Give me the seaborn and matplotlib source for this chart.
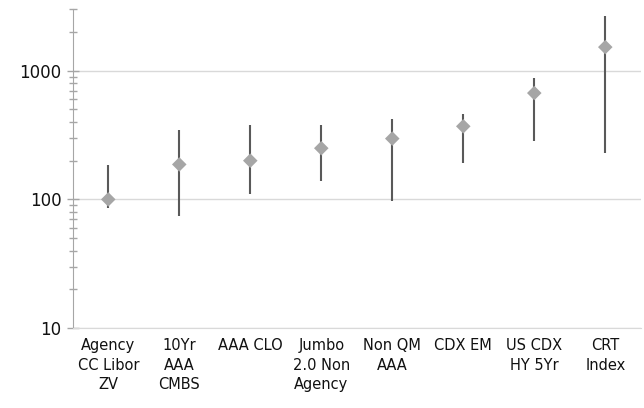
"""
Spread ranges by sector: log-scale range plot (low / current / high).
"""

import matplotlib
matplotlib.use("Agg")
import matplotlib.pyplot as plt
import matplotlib.ticker as mticker
import seaborn as sns
import pandas as pd

# data
categories = [
    "Agency\nCC Libor\nZV",
    "10Yr\nAAA\nCMBS",
    "AAA CLO",
    "Jumbo\n2.0 Non\nAgency",
    "Non QM\nAAA",
    "CDX EM",
    "US CDX\nHY 5Yr",
    "CRT\nIndex",
]
current = [100, 187, 200, 250, 297, 370, 671, 1527]
low = [85, 74, 111, 139, 97, 192, 286, 230]
high = [185, 349, 380, 380, 422, 461, 877, 2667]

sns.set_style("white")
plt.rcParams["font.family"] = ["DejaVu Sans"]

df = pd.DataFrame({"cat": categories, "cur": current, "lo": low, "hi": high})

fig = plt.figure(figsize=(6.44, 4.08), dpi=100)
ax = fig.add_axes([0.113, 0.196, 0.882, 0.781])

# range lines
ax.vlines(range(len(df)), df["lo"], df["hi"], color="#595959", linewidth=1.5, zorder=2)

# current level markers
sns.scatterplot(
    data=df, x="cat", y="cur", marker="D", s=55,
    color="#a6a6a6", edgecolor="none", ax=ax, zorder=3,
)

ax.set_yscale("log")
ax.set_ylim(10, 3000)
ax.set_xlim(-0.5, len(df) - 0.5)

ax.yaxis.set_major_locator(mticker.FixedLocator([10, 100, 1000]))
ax.yaxis.set_major_formatter(mticker.FormatStrFormatter("%d"))
ax.yaxis.set_minor_locator(mticker.LogLocator(base=10, subs=range(2, 10)))
ax.yaxis.set_minor_formatter(mticker.NullFormatter())

ax.grid(axis="y", which="major", color="#d9d9d9", linewidth=1.0, zorder=0)
ax.grid(axis="x", visible=False)

for side in ["top", "right"]:
    ax.spines[side].set_visible(False)
ax.spines["left"].set_color("#a6a6a6")
ax.spines["bottom"].set_color("#d9d9d9")

ax.tick_params(axis="y", which="major", direction="inout", length=8.5,
               width=1, color="#a6a6a6", labelsize=12, labelcolor="#111111",
               pad=4, left=True)
ax.tick_params(axis="y", which="minor", direction="inout", length=5.5,
               width=1, color="#a6a6a6", left=True)
ax.tick_params(axis="x", length=0, labelsize=10.5, labelcolor="#111111", pad=7)
for lbl in ax.get_xticklabels():
    lbl.set_multialignment("center")
    lbl.set_linespacing(1.4)

ax.set_xlabel("")
ax.set_ylabel("")

fig.savefig("out.png", dpi=100)
